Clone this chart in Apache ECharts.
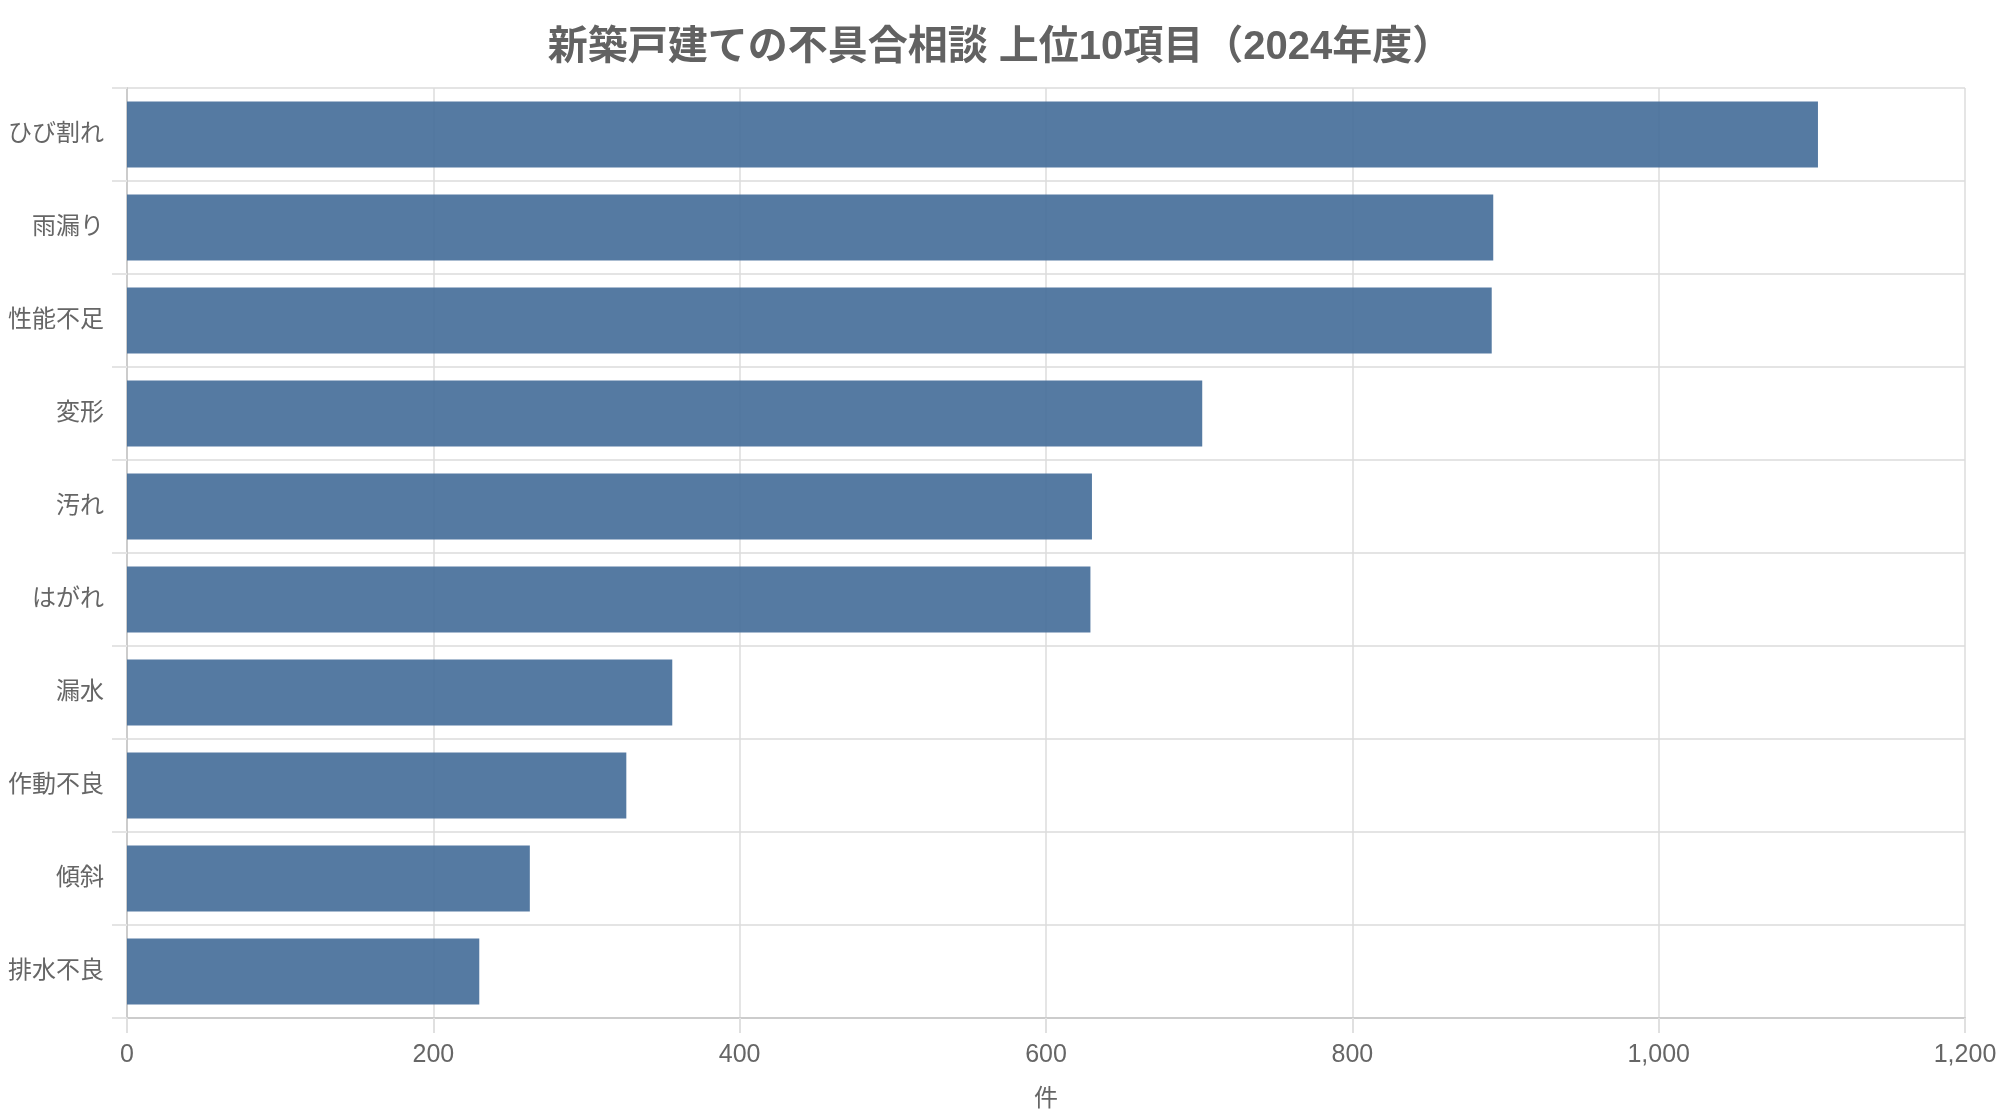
<!DOCTYPE html>
<html>
<head>
<meta charset="utf-8">
<script src="https://cdn.jsdelivr.net/npm/echarts@6/dist/echarts.min.js"></script>
<style>
html,body{margin:0;padding:0;background:#fff;}
#chart{width:2000px;height:1120px;}
</style>
</head>
<body>
<div id="chart"></div>
<script>
const titleText = '新築戸建ての不具合相談 上位10項目（2024年度）';
const categories = ['ひび割れ', '雨漏り', '性能不足', '変形', '汚れ', 'はがれ', '漏水', '作動不良', '傾斜', '排水不良'];
const counts = [1104, 892, 891, 702, 630, 629, 356, 326, 263, 230];
const xAxisName = '件';

const FONT = "'Liberation Sans', 'Noto Sans CJK JP', sans-serif";
const chart = echarts.init(document.getElementById('chart'), null, {renderer: 'canvas'});
chart.setOption({
  backgroundColor: '#ffffff',
  animation: false,
  title: {
    text: titleText,
    left: 'center',
    top: 23,
    textStyle: {fontFamily: FONT, fontSize: 40, fontWeight: 'bold', color: '#626262'}
  },
  grid: {left: 127, right: 35, top: 88, bottom: 102, containLabel: false},
  xAxis: {
    type: 'value',
    min: 0, max: 1200, interval: 200,
    name: xAxisName,
    nameLocation: 'middle',
    nameGap: 69,
    nameTextStyle: {fontFamily: FONT, fontSize: 24, color: '#666'},
    axisLine: {show: true, lineStyle: {color: '#cccccc', width: 2}},
    axisTick: {show: true, length: 15, lineStyle: {color: '#e0e0e0', width: 2}},
    axisLabel: {fontFamily: FONT, fontSize: 25, color: '#666', margin: 25,
      formatter: v => v.toLocaleString('en-US')},
    splitLine: {show: true, lineStyle: {color: '#dcdcdc', width: 1.5}}
  },
  yAxis: {
    type: 'category',
    data: categories,
    inverse: true,
    axisLine: {show: true, lineStyle: {color: '#cccccc', width: 2}},
    axisTick: {show: true, length: 15, lineStyle: {color: '#e4e4e4', width: 2}},
    axisLabel: {fontFamily: FONT, fontSize: 24, color: '#666', margin: 23, padding: [5, 0, 0, 0]},
    splitLine: {show: true, lineStyle: {color: '#e4e4e4', width: 2}}
  },
  series: [{
    type: 'bar',
    data: counts,
    barCategoryGap: '29%',
    itemStyle: {color: '#426c98', opacity: 0.9}
  }]
});
</script>
</body>
</html>
